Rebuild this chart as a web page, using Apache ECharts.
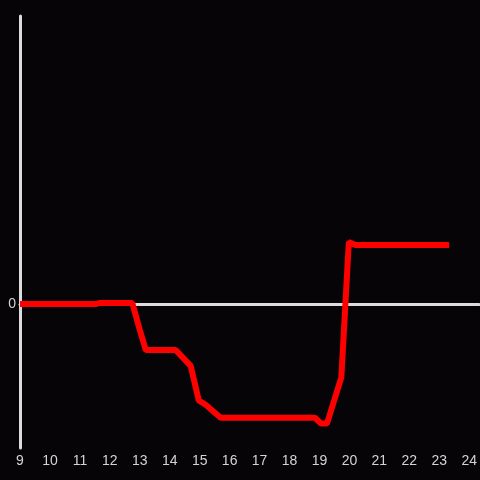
<!DOCTYPE html>
<html>
<head>
<meta charset="utf-8">
<script src="https://cdn.jsdelivr.net/npm/echarts@6/dist/echarts.min.js"></script>
<style>
  html, body { margin: 0; padding: 0; background: #060407; }
  #chart { width: 480px; height: 480px; }
</style>
</head>
<body>
<div id="chart"></div>
<script>
// hour of day vs value (relative units)
const hours = [9, 11.55, 11.65, 12.75, 13.0, 13.2, 14.2, 14.7, 14.97, 15.2, 15.7, 18.85, 19.05, 19.25, 19.73, 19.98, 20.2, 23.33];
const values = [0, 0, 0.7, 0.7, -18, -32, -32, -43, -67, -70, -79, -79, -83, -83, -51, 43, 41, 41];
const xMin = 9;
const xMax = 24.33;

const chart = echarts.init(document.getElementById('chart'));

const labelColor = '#d4d4d4';
const axisColor = '#dcdcdc';

chart.setOption({
  backgroundColor: '#060407',
  animation: false,
  grid: { left: 20, right: 0, top: 16, bottom: 32 },
  xAxis: [
    {
      // zero line
      type: 'value',
      min: xMin,
      max: xMax,
      interval: 1,
      axisLine: { show: true, onZero: true, lineStyle: { color: axisColor, width: 3 } },
      axisTick: { show: false },
      axisLabel: { show: false },
      splitLine: { show: false }
    },
    {
      // tick labels at the bottom
      type: 'value',
      position: 'bottom',
      min: xMin,
      max: xMax,
      interval: 1,
      axisLine: { show: false, onZero: false },
      axisTick: { show: false },
      splitLine: { show: false },
      axisLabel: {
        color: labelColor,
        fontSize: 14,
        margin: 6,
        showMaxLabel: false,
        formatter: (v) => (Number.isInteger(v) ? String(v) : '')
      }
    }
  ],
  yAxis: {
    type: 'value',
    min: -100,
    max: 200,
    interval: 100,
    axisLine: { show: true, lineStyle: { color: axisColor, width: 3 } },
    axisTick: { show: false },
    splitLine: { show: false },
    axisLabel: {
      color: labelColor,
      fontSize: 14,
      margin: 4,
      formatter: (v) => (v === 0 ? '0' : '')
    }
  },
  series: [
    {
      type: 'line',
      xAxisIndex: 0,
      data: hours.map((h, i) => [h, values[i]]),
      showSymbol: false,
      lineStyle: { color: '#ff0000', width: 6 },
      z: 5
    }
  ]
});
</script>
</body>
</html>
